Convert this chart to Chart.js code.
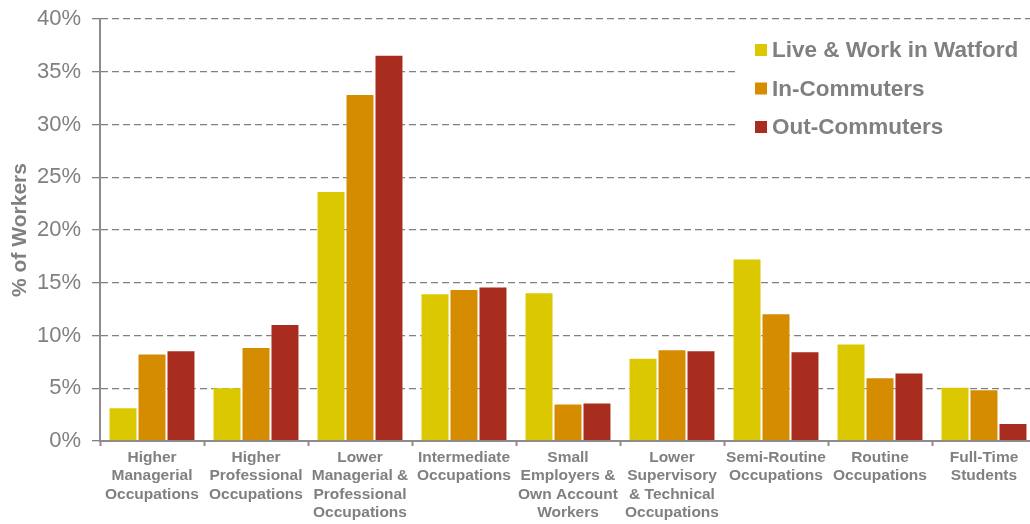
<!DOCTYPE html>
<html>
<head>
<meta charset="utf-8">
<script src="https://cdn.jsdelivr.net/npm/chart.js@4/dist/chart.umd.min.js"></script>
<style>
  html, body { margin: 0; padding: 0; background: #fff; overflow: hidden; }
  #wrap { width: 1040px; height: 524px; }
</style>
</head>
<body>
<div id="wrap"><canvas id="workersChart" width="1040" height="524"></canvas></div>
<script>
const categories = [
  ["Higher", "Managerial", "Occupations"],
  ["Higher", "Professional", "Occupations"],
  ["Lower", "Managerial &", "Professional", "Occupations"],
  ["Intermediate", "Occupations"],
  ["Small", "Employers &", "Own Account", "Workers"],
  ["Lower", "Supervisory", "& Technical", "Occupations"],
  ["Semi-Routine", "Occupations"],
  ["Routine", "Occupations"],
  ["Full-Time", "Students"],
];
const liveWork = [3.2, 5.1, 23.7, 14.0, 14.1, 7.9, 17.3, 9.25, 5.15];
const inCommuters = [8.3, 8.9, 32.9, 14.4, 3.55, 8.7, 12.1, 6.05, 4.9];
const outCommuters = [8.6, 11.1, 36.6, 14.65, 3.65, 8.6, 8.5, 6.5, 1.7];
const seriesNames = ["Live & Work in Watford", "In-Commuters", "Out-Commuters"];
const yTicks = [0, 5, 10, 15, 20, 25, 30, 35, 40];

const FONT = "'Liberation Sans', Arial, sans-serif";
const GREY = "#808080";
const colours = ["#dcc800", "#d68c00", "#a82d1f"];

// legend drawn inside the plot, top right, on a white panel
const innerLegend = {
  id: "innerLegend",
  afterDraw(chart) {
    const ctx = chart.ctx;
    const x = 755, y0 = 50, step = 38.5, box = 12;
    ctx.save();
    ctx.fillStyle = "#fff";
    ctx.fillRect(738, 26, chart.width - 738, 122);
    ctx.font = "bold 22.5px " + FONT;
    ctx.textBaseline = "middle";
    chart.data.datasets.forEach((ds, i) => {
      const y = y0 + i * step;
      ctx.fillStyle = ds.backgroundColor;
      ctx.fillRect(x, y - box / 2, box, box);
      ctx.fillStyle = GREY;
      ctx.fillText(ds.label, x + 17, y + 1);
    });
    ctx.restore();
  },
};

function makeSet(label, data, colour) {
  return {
    label: label,
    data: data,
    backgroundColor: colour,
    borderColor: "rgba(255,255,255,0.35)",
    borderWidth: 1,
    categoryPercentage: 0.836,
    barPercentage: 1.0,
  };
}

new Chart(document.getElementById("workersChart"), {
  type: "bar",
  data: {
    labels: categories,
    datasets: [
      makeSet(seriesNames[0], liveWork, colours[0]),
      makeSet(seriesNames[1], inCommuters, colours[1]),
      makeSet(seriesNames[2], outCommuters, colours[2]),
    ],
  },
  options: {
    responsive: false,
    animation: false,
    layout: { padding: { top: 19, right: 4, left: 0, bottom: 0 } },
    plugins: { legend: { display: false }, tooltip: { enabled: false } },
    scales: {
      x: {
        grid: {
          display: true,
          offset: true,
          drawOnChartArea: false,
          drawTicks: true,
          tickLength: 5,
          tickColor: "#8c8c8c",
          tickWidth: 2,
        },
        border: { display: true, color: "#8c8c8c", width: 2 },
        ticks: {
          color: GREY,
          padding: 3,
          maxRotation: 0,
          autoSkip: false,
          font: { family: FONT, size: 15.5, weight: "bold", lineHeight: 1.17 },
        },
        afterFit(scale) { scale.height = 83; },
      },
      y: {
        min: 0,
        max: 40,
        afterBuildTicks(scale) { scale.ticks = yTicks.map((v) => ({ value: v })); },
        grid: {
          color: GREY,
          lineWidth: 1.3,
          tickLength: 8,
          tickColor: GREY,
          tickWidth: 1.3,
        },
        border: { display: true, color: "#8c8c8c", width: 2, dash: [7, 4] },
        ticks: {
          color: GREY,
          padding: 11,
          font: { family: FONT, size: 22 },
          callback: (v) => v + "%",
        },
        title: {
          display: true,
          text: "% of Workers",
          color: GREY,
          padding: { top: 8, bottom: 0 },
          font: { family: FONT, size: 21, weight: "bold", lineHeight: 1.2 },
        },
        afterFit(scale) {
          scale.width = 100;
          scale.paddingTop = 0;
          scale.paddingBottom = 0;
        },
      },
    },
  },
  plugins: [innerLegend],
});
</script>
</body>
</html>
